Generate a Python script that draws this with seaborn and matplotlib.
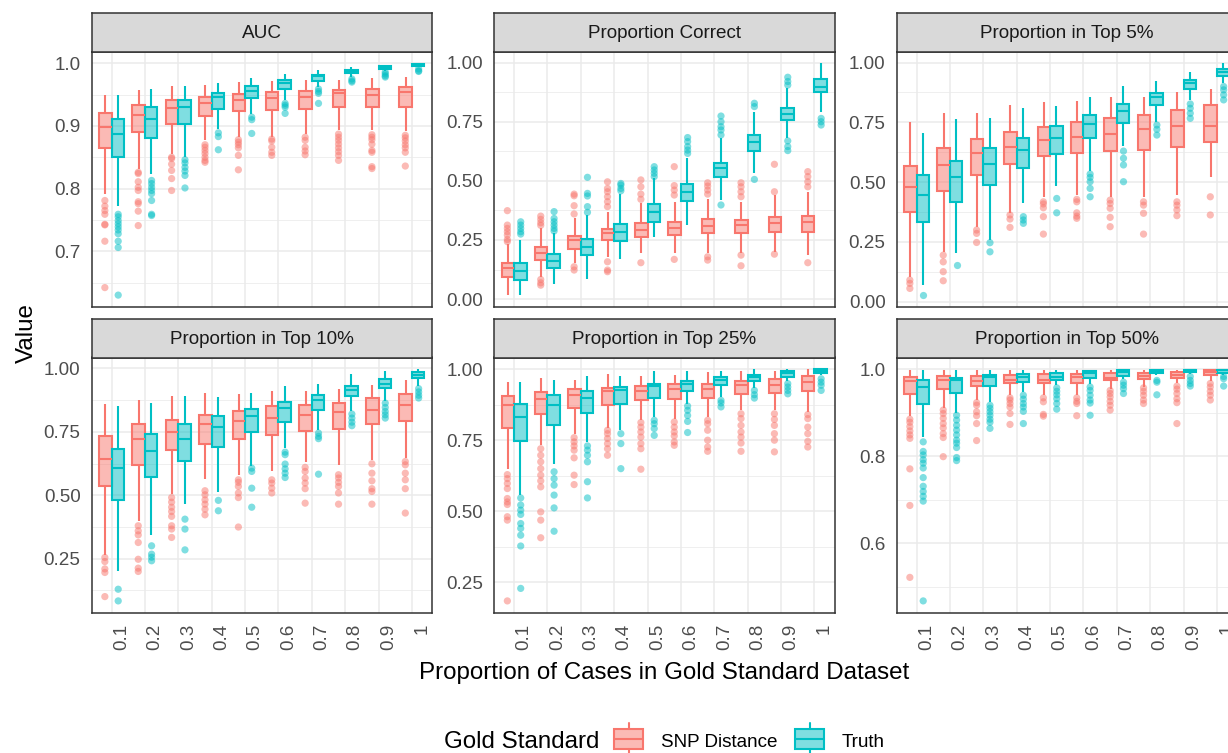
import pandas as pd
import matplotlib
matplotlib.use("Agg")
import matplotlib.pyplot as plt
from matplotlib import ticker
from matplotlib.colors import to_rgba
from matplotlib.patches import Rectangle
from matplotlib.lines import Line2D
from matplotlib.transforms import ScaledTranslation
import seaborn as sns

sns.set_theme(style="white")
plt.rcParams['font.family'] = ['Liberation Sans', 'DejaVu Sans']

# ---------------- DATA ----------------
props = ["0.1", "0.2", "0.3", "0.4", "0.5", "0.6", "0.7", "0.8", "0.9", "1"]
standards = ["SNP Distance", "Truth"]
metrics = ["AUC", "Proportion Correct", "Proportion in Top 5%",
           "Proportion in Top 10%", "Proportion in Top 25%", "Proportion in Top 50%"]

# box stats per proportion: (whisker low, Q1, median, Q3, whisker high)
auc_snp = [(0.791, 0.865, 0.899, 0.921, 0.949), (0.832, 0.890, 0.918, 0.934, 0.958),
           (0.856, 0.903, 0.928, 0.941, 0.963), (0.877, 0.916, 0.936, 0.946, 0.966),
           (0.883, 0.924, 0.942, 0.951, 0.970), (0.883, 0.925, 0.945, 0.954, 0.971),
           (0.887, 0.927, 0.946, 0.955, 0.973), (0.893, 0.930, 0.952, 0.958, 0.974),
           (0.893, 0.930, 0.950, 0.959, 0.977), (0.892, 0.931, 0.954, 0.962, 0.978)]
auc_snp_out = [[0.781, 0.772, 0.765, 0.759, 0.743, 0.742, 0.716, 0.642],
               [0.826, 0.824, 0.811, 0.802, 0.797, 0.779, 0.776, 0.764, 0.741],
               [0.850, 0.848, 0.839, 0.829, 0.816, 0.797],
               [0.870, 0.866, 0.861, 0.856, 0.850, 0.845, 0.842],
               [0.878, 0.874, 0.870, 0.865, 0.853, 0.830],
               [0.879, 0.876, 0.866, 0.858, 0.853],
               [0.882, 0.877, 0.866, 0.860, 0.854],
               [0.887, 0.882, 0.877, 0.871, 0.865, 0.859, 0.853, 0.845],
               [0.886, 0.882, 0.878, 0.871, 0.861, 0.858, 0.835, 0.832],
               [0.885, 0.881, 0.876, 0.870, 0.865, 0.858, 0.836]]
auc_truth = [(0.773, 0.851, 0.887, 0.911, 0.949), (0.824, 0.881, 0.911, 0.930, 0.959),
             (0.850, 0.903, 0.930, 0.942, 0.964), (0.895, 0.927, 0.946, 0.953, 0.968),
             (0.919, 0.944, 0.955, 0.963, 0.976), (0.941, 0.959, 0.969, 0.974, 0.983),
             (0.962, 0.972, 0.979, 0.982, 0.989), (0.978, 0.984, 0.987, 0.989, 0.994),
             (0.988, 0.991, 0.994, 0.996, 0.998), (0.994, 0.996, 0.998, 0.999, 1.000)]
auc_truth_out = [[0.759, 0.755, 0.749, 0.744, 0.739, 0.734, 0.728, 0.716, 0.706, 0.630],
                 [0.813, 0.808, 0.802, 0.797, 0.792, 0.781, 0.759, 0.757],
                 [0.846, 0.841, 0.834, 0.828, 0.821, 0.801],
                 [0.889, 0.883, 0.862],
                 [0.914, 0.910, 0.888],
                 [0.936, 0.933, 0.930, 0.920],
                 [0.959, 0.955, 0.952, 0.936],
                 [0.975, 0.972, 0.970],
                 [0.986, 0.983, 0.980, 0.978],
                 [0.991, 0.988, 0.987]]

correct_snp = [(0.017, 0.092, 0.130, 0.151, 0.235), (0.094, 0.165, 0.193, 0.219, 0.300),
               (0.151, 0.214, 0.250, 0.267, 0.345), (0.179, 0.250, 0.278, 0.298, 0.370),
               (0.193, 0.264, 0.292, 0.320, 0.405), (0.193, 0.271, 0.302, 0.327, 0.410),
               (0.193, 0.278, 0.309, 0.337, 0.425), (0.193, 0.281, 0.313, 0.334, 0.410),
               (0.200, 0.285, 0.323, 0.346, 0.440), (0.186, 0.285, 0.327, 0.353, 0.454)]
correct_snp_out = [[0.374, 0.313, 0.299, 0.285, 0.271, 0.252, 0.243],
                   [0.351, 0.337, 0.323, 0.312, 0.083, 0.069, 0.059],
                   [0.444, 0.437, 0.395, 0.360, 0.137, 0.123],
                   [0.496, 0.468, 0.454, 0.433, 0.412, 0.391, 0.158, 0.123, 0.116],
                   [0.504, 0.475, 0.444, 0.422, 0.154],
                   [0.560, 0.480, 0.461, 0.440, 0.168],
                   [0.492, 0.478, 0.461, 0.444, 0.179, 0.165],
                   [0.492, 0.475, 0.454, 0.433, 0.186, 0.141],
                   [0.570, 0.454, 0.190],
                   [0.539, 0.518, 0.496, 0.475, 0.154]]
correct_truth = [(0.017, 0.080, 0.120, 0.151, 0.250), (0.063, 0.131, 0.162, 0.190, 0.278),
                 (0.083, 0.186, 0.219, 0.255, 0.355), (0.168, 0.245, 0.285, 0.317, 0.445),
                 (0.264, 0.326, 0.370, 0.402, 0.510), (0.313, 0.413, 0.451, 0.487, 0.595),
                 (0.420, 0.515, 0.553, 0.577, 0.680), (0.532, 0.626, 0.663, 0.694, 0.793),
                 (0.680, 0.757, 0.783, 0.807, 0.891), (0.793, 0.877, 0.898, 0.929, 0.997)]
correct_truth_out = [[0.327, 0.313, 0.299, 0.285, 0.275],
                     [0.370, 0.341, 0.327, 0.313, 0.299, 0.288],
                     [0.515, 0.447, 0.436, 0.391, 0.367],
                     [0.489, 0.482, 0.468, 0.458],
                     [0.560, 0.546, 0.532, 0.518],
                     [0.683, 0.666, 0.645, 0.630, 0.616],
                     [0.774, 0.750, 0.729, 0.715, 0.694, 0.398],
                     [0.828, 0.814, 0.506],
                     [0.938, 0.920, 0.905, 0.669, 0.645, 0.628],
                     [0.764, 0.750, 0.736]]

top5_snp = [(0.102, 0.377, 0.481, 0.568, 0.753), (0.209, 0.463, 0.572, 0.642, 0.788),
            (0.311, 0.530, 0.621, 0.679, 0.788), (0.370, 0.575, 0.646, 0.708, 0.823),
            (0.439, 0.609, 0.676, 0.729, 0.834), (0.446, 0.623, 0.688, 0.753, 0.841),
            (0.439, 0.632, 0.702, 0.767, 0.855), (0.437, 0.635, 0.721, 0.781, 0.855),
            (0.446, 0.649, 0.735, 0.802, 0.876), (0.523, 0.669, 0.735, 0.823, 0.888)]
top5_snp_out = [[0.091, 0.077, 0.056],
                [0.195, 0.167, 0.126, 0.088],
                [0.300, 0.286, 0.248],
                [0.363, 0.346, 0.311],
                [0.418, 0.409, 0.393, 0.356, 0.283],
                [0.428, 0.418, 0.372, 0.358, 0.349],
                [0.425, 0.411, 0.391, 0.353, 0.314],
                [0.418, 0.404, 0.370, 0.283],
                [0.418, 0.404, 0.384, 0.360],
                [0.439, 0.363]]
top5_truth = [(0.070, 0.335, 0.446, 0.530, 0.704), (0.202, 0.418, 0.520, 0.590, 0.764),
              (0.258, 0.488, 0.576, 0.642, 0.770), (0.411, 0.558, 0.635, 0.686, 0.812),
              (0.485, 0.616, 0.683, 0.735, 0.820), (0.547, 0.683, 0.743, 0.781, 0.855),
              (0.651, 0.749, 0.799, 0.827, 0.900), (0.753, 0.823, 0.855, 0.874, 0.923),
              (0.844, 0.888, 0.914, 0.927, 0.962), (0.914, 0.944, 0.962, 0.972, 0.997)]
top5_truth_out = [[0.028],
                  [0.153],
                  [0.247, 0.209],
                  [0.356, 0.342, 0.328],
                  [0.432, 0.372],
                  [0.534, 0.520, 0.502, 0.474, 0.439],
                  [0.630, 0.600, 0.572, 0.502],
                  [0.739, 0.721, 0.697],
                  [0.827, 0.809, 0.788, 0.767],
                  [0.900, 0.886, 0.865, 0.844]]

top10_snp = [(0.265, 0.537, 0.643, 0.732, 0.859), (0.397, 0.620, 0.721, 0.782, 0.876),
             (0.505, 0.677, 0.749, 0.798, 0.892), (0.564, 0.703, 0.781, 0.817, 0.903),
             (0.581, 0.723, 0.794, 0.833, 0.900), (0.594, 0.736, 0.804, 0.850, 0.909),
             (0.633, 0.754, 0.817, 0.857, 0.912), (0.620, 0.762, 0.827, 0.865, 0.919),
             (0.640, 0.781, 0.837, 0.883, 0.936), (0.647, 0.794, 0.857, 0.899, 0.955)]
top10_snp_out = [[0.255, 0.239, 0.210, 0.196, 0.101],
                 [0.380, 0.360, 0.344, 0.314, 0.248, 0.213, 0.200],
                 [0.491, 0.473, 0.453, 0.436, 0.417, 0.380, 0.367, 0.334],
                 [0.518, 0.502, 0.482, 0.465, 0.445, 0.423],
                 [0.561, 0.551, 0.535, 0.509, 0.491, 0.375],
                 [0.561, 0.548, 0.528, 0.509],
                 [0.610, 0.594, 0.568, 0.548, 0.526, 0.469],
                 [0.581, 0.568, 0.551, 0.535, 0.509, 0.465],
                 [0.624, 0.587, 0.557, 0.526, 0.515, 0.465],
                 [0.633, 0.620, 0.587, 0.561, 0.526, 0.430]]
top10_truth = [(0.200, 0.482, 0.607, 0.682, 0.850), (0.342, 0.572, 0.675, 0.742, 0.863),
               (0.466, 0.636, 0.723, 0.782, 0.892), (0.511, 0.690, 0.769, 0.811, 0.886),
               (0.614, 0.748, 0.813, 0.840, 0.903), (0.686, 0.788, 0.843, 0.867, 0.932),
               (0.758, 0.837, 0.876, 0.896, 0.940), (0.830, 0.890, 0.913, 0.929, 0.978),
               (0.873, 0.922, 0.940, 0.958, 0.988), (0.929, 0.962, 0.975, 0.987, 0.997)]
top10_truth_out = [[0.130, 0.084],
                   [0.301, 0.268, 0.256, 0.242],
                   [0.406, 0.367, 0.285],
                   [0.480, 0.439],
                   [0.607, 0.594, 0.528, 0.453],
                   [0.670, 0.660, 0.623, 0.604, 0.587, 0.570],
                   [0.745, 0.732, 0.723, 0.583],
                   [0.820, 0.804, 0.788, 0.774],
                   [0.863, 0.846, 0.830, 0.817, 0.804],
                   [0.920, 0.907, 0.894, 0.883]]

top25_snp = [(0.650, 0.793, 0.875, 0.905, 0.954), (0.732, 0.841, 0.896, 0.919, 0.970),
             (0.771, 0.863, 0.910, 0.929, 0.963), (0.794, 0.875, 0.922, 0.935, 0.984),
             (0.820, 0.890, 0.922, 0.940, 0.975), (0.826, 0.896, 0.929, 0.946, 0.980),
             (0.832, 0.898, 0.931, 0.949, 0.989), (0.855, 0.911, 0.943, 0.957, 0.992),
             (0.855, 0.916, 0.945, 0.964, 0.995), (0.849, 0.922, 0.954, 0.974, 0.999)]
top25_snp_out = [[0.629, 0.615, 0.598, 0.580, 0.545, 0.533, 0.524, 0.481, 0.469, 0.185],
                 [0.720, 0.697, 0.674, 0.650, 0.627, 0.607, 0.586, 0.498, 0.469, 0.407],
                 [0.759, 0.744, 0.730, 0.715, 0.688, 0.627, 0.594],
                 [0.785, 0.773, 0.756, 0.738, 0.720, 0.697],
                 [0.812, 0.796, 0.779, 0.761, 0.738, 0.720, 0.648],
                 [0.814, 0.796, 0.779, 0.765, 0.744, 0.732],
                 [0.820, 0.808, 0.785, 0.750, 0.726, 0.711],
                 [0.843, 0.826, 0.802, 0.779, 0.761, 0.740, 0.711],
                 [0.843, 0.823, 0.802, 0.773, 0.750, 0.709],
                 [0.840, 0.826, 0.796, 0.773, 0.746, 0.726]]
top25_truth = [(0.559, 0.747, 0.832, 0.878, 0.954), (0.668, 0.802, 0.875, 0.908, 0.960),
               (0.744, 0.846, 0.898, 0.922, 0.975), (0.785, 0.876, 0.925, 0.937, 0.975),
               (0.832, 0.898, 0.939, 0.949, 0.993), (0.878, 0.922, 0.946, 0.958, 0.995),
               (0.902, 0.943, 0.960, 0.972, 0.992), (0.933, 0.957, 0.972, 0.980, 0.999),
               (0.957, 0.972, 0.987, 0.992, 0.999), (0.978, 0.987, 0.995, 0.999, 1.000)]
top25_truth_out = [[0.547, 0.522, 0.504, 0.489, 0.457, 0.440, 0.416, 0.378, 0.229],
                   [0.639, 0.615, 0.592, 0.557, 0.512, 0.430],
                   [0.730, 0.715, 0.697, 0.674, 0.604, 0.547],
                   [0.773, 0.738, 0.650],
                   [0.820, 0.808, 0.791, 0.767],
                   [0.870, 0.855, 0.837, 0.816, 0.777],
                   [0.890, 0.881, 0.867],
                   [0.925, 0.910, 0.898],
                   [0.949, 0.937, 0.925, 0.913],
                   [0.966, 0.954, 0.943, 0.925]]

top50_snp = [(0.893, 0.942, 0.973, 0.982, 0.998), (0.911, 0.955, 0.976, 0.983, 0.998),
             (0.929, 0.961, 0.973, 0.984, 0.998), (0.940, 0.967, 0.976, 0.987, 0.998),
             (0.940, 0.968, 0.976, 0.989, 0.998), (0.940, 0.969, 0.982, 0.989, 0.998),
             (0.955, 0.974, 0.980, 0.992, 0.998), (0.960, 0.978, 0.983, 0.992, 0.998),
             (0.967, 0.979, 0.986, 0.993, 0.998), (0.973, 0.986, 0.993, 0.997, 0.998)]
top50_snp_out = [[0.885, 0.878, 0.868, 0.858, 0.849, 0.841, 0.771, 0.687, 0.522],
                 [0.906, 0.898, 0.887, 0.875, 0.865, 0.852, 0.843, 0.799],
                 [0.923, 0.917, 0.902, 0.893, 0.875, 0.836],
                 [0.934, 0.929, 0.921, 0.913, 0.898, 0.873],
                 [0.934, 0.925, 0.896, 0.892],
                 [0.934, 0.926, 0.921, 0.893],
                 [0.951, 0.944, 0.936, 0.926, 0.917, 0.906],
                 [0.957, 0.949, 0.940, 0.929, 0.921],
                 [0.961, 0.954, 0.944, 0.932, 0.923, 0.875],
                 [0.967, 0.959, 0.949, 0.940, 0.929]]
top50_truth = [(0.845, 0.919, 0.959, 0.974, 0.997), (0.900, 0.946, 0.976, 0.980, 0.997),
               (0.925, 0.961, 0.982, 0.986, 0.999), (0.948, 0.970, 0.982, 0.988, 0.999),
               (0.963, 0.976, 0.982, 0.992, 0.998), (0.965, 0.980, 0.992, 0.995, 0.997),
               (0.978, 0.983, 0.993, 0.997, 0.999), (0.986, 0.992, 0.996, 0.998, 0.999),
               (0.989, 0.993, 0.998, 0.998, 0.999), (0.987, 0.992, 0.997, 0.999, 1.000)]
top50_truth_out = [[0.833, 0.811, 0.803, 0.792, 0.784, 0.773, 0.751, 0.731, 0.719, 0.708, 0.697, 0.468],
                   [0.894, 0.883, 0.871, 0.860, 0.849, 0.837, 0.830, 0.820, 0.797, 0.790],
                   [0.917, 0.910, 0.902, 0.894, 0.885, 0.878, 0.864],
                   [0.940, 0.931, 0.921, 0.913, 0.903, 0.875],
                   [0.957, 0.949, 0.941, 0.932, 0.921, 0.908],
                   [0.959, 0.951, 0.940, 0.929, 0.922, 0.894],
                   [0.970, 0.963, 0.955, 0.944],
                   [0.974, 0.970, 0.941],
                   [0.983, 0.974, 0.967, 0.961],
                   [0.983, 0.978, 0.961]]

# ---------------- LONG-FORM TABLES ----------------
panel_data = {
    "AUC": (auc_snp, auc_snp_out, auc_truth, auc_truth_out),
    "Proportion Correct": (correct_snp, correct_snp_out, correct_truth, correct_truth_out),
    "Proportion in Top 5%": (top5_snp, top5_snp_out, top5_truth, top5_truth_out),
    "Proportion in Top 10%": (top10_snp, top10_snp_out, top10_truth, top10_truth_out),
    "Proportion in Top 25%": (top25_snp, top25_snp_out, top25_truth, top25_truth_out),
    "Proportion in Top 50%": (top50_snp, top50_snp_out, top50_truth, top50_truth_out),
}

box_rows, out_rows = [], []
for m, (s_box, s_out, t_box, t_out) in panel_data.items():
    for std, boxes, outs in [(standards[0], s_box, s_out), (standards[1], t_box, t_out)]:
        for p, stats, pts in zip(props, boxes, outs):
            box_rows += [(m, p, std, v) for v in stats]
            out_rows += [(m, p, std, v) for v in pts]
box_df = pd.DataFrame(box_rows, columns=["metric", "prop", "standard", "value"])
out_df = pd.DataFrame(out_rows, columns=["metric", "prop", "standard", "value"])

# ---------------- STYLE / LAYOUT ----------------
colors = ["#F8766D", "#00BFC4"]
pal = dict(zip(standards, colors))
dark = "#333333"
grid_col = "#EBEBEB"
small = 13.6
big = 17.4

W, H = 1228, 753
fig = plt.figure(figsize=(W / 100, H / 100), dpi=100)


def px_rect(left, top, right, bottom):
    return [left / W, 1 - bottom / H, (right - left) / W, (bottom - top) / H]


col_left = [91.5, 494.0, 896.5]
row_top = [51.7, 357.5]
panel_w, panel_h, strip_h = 340.5, 255.0, 38.5

# (major tick step, decimals) per facet
y_fmt = {"AUC": (0.1, 1), "Proportion in Top 50%": (0.2, 1)}

for k, m in enumerate(metrics):
    r, c = divmod(k, 3)
    l, t = col_left[c], row_top[r]
    ax = fig.add_axes(px_rect(l, t, l + panel_w, t + panel_h))
    sax = fig.add_axes(px_rect(l, t - strip_h, l + panel_w, t))

    for std, col in zip(standards, colors):
        n0 = len(ax.patches)
        sub = box_df[(box_df.metric == m) & (box_df.standard == std)]
        sns.boxplot(data=sub, x="prop", y="value", hue="standard", order=props,
                    hue_order=standards, palette=pal, saturation=1, dodge=True,
                    whis=(0, 100), showfliers=False, width=0.75, gap=0,
                    linewidth=1.5, linecolor=col, legend=False, ax=ax,
                    capprops=dict(visible=False))
        for patch in ax.patches[n0:]:
            patch.set_facecolor(to_rgba(col, 0.5))
            patch.set_edgecolor(col)

    sns.stripplot(data=out_df[out_df.metric == m], x="prop", y="value", hue="standard",
                  order=props, hue_order=standards, palette=pal, dodge=True,
                  jitter=False, size=5.2, alpha=0.5, linewidth=0, legend=False, ax=ax)

    vals = pd.concat([box_df[box_df.metric == m].value, out_df[out_df.metric == m].value])
    lo, hi = vals.min(), vals.max()
    pad = 0.05 * (hi - lo)
    ax.set_ylim(lo - pad, hi + pad)
    ax.set_xlim(-0.6, len(props) - 0.4)

    step, dec = y_fmt.get(m, (0.25, 2))
    ax.yaxis.set_major_locator(ticker.MultipleLocator(step))
    ax.yaxis.set_minor_locator(ticker.MultipleLocator(step / 2))
    ax.yaxis.set_major_formatter(ticker.FormatStrFormatter(f"%.{dec}f"))
    ax.set_axisbelow(True)
    ax.grid(True, which="major", color=grid_col, linewidth=1.1)
    ax.grid(True, which="minor", axis="y", color=grid_col, linewidth=0.55)
    ax.set_xlabel("")
    ax.set_ylabel("")
    for sp in ax.spines.values():
        sp.set_visible(True)
        sp.set_color(dark)
        sp.set_linewidth(1.1)
    ax.tick_params(which="major", length=4.3, width=1.1, color=dark,
                   labelcolor="#4D4D4D", labelsize=small, pad=3.6)
    ax.tick_params(which="minor", length=0)
    ax.set_xticks(range(len(props)))
    if r == 0:
        ax.tick_params(axis="x", length=0, labelbottom=False)
    else:
        ax.set_xticklabels(props, rotation=90, ha="left", va="top")
        for lab in ax.get_xticklabels():
            lab.set_transform(lab.get_transform() + ScaledTranslation(1.5 / 100, 0, fig.dpi_scale_trans))

    # facet strip
    sax.set_facecolor("#D9D9D9")
    sax.set_xticks([])
    sax.set_yticks([])
    for sp in sax.spines.values():
        sp.set_visible(True)
        sp.set_color(dark)
        sp.set_linewidth(1.1)
    sax.text(0.5, 0.47, m, ha="center", va="center", fontsize=small,
             color="#1A1A1A", transform=sax.transAxes)

# ---------------- AXIS TITLES ----------------
fig.text(664 / W, 1 - 679 / H, "Proportion of Cases in Gold Standard Dataset",
         ha="center", va="baseline", fontsize=big, color="black")
fig.text(33 / W, 1 - 333 / H, "Value", rotation=90, rotation_mode="anchor",
         ha="center", va="baseline", fontsize=big, color="black")

# ---------------- LEGEND ----------------
fig.text(444 / W, 1 - 748.3 / H, "Gold Standard", ha="left", va="baseline",
         fontsize=big, color="black")
key = 38.8
key_cy = 739.0
for std, col, kx, lx in zip(standards, colors, [609.5, 790.5], [661, 842]):
    bx0, bx1 = kx + 0.125 * key, kx + 0.875 * key
    by0, by1 = key_cy - 0.25 * key, key_cy + 0.25 * key
    fig.add_artist(Rectangle((bx0 / W, 1 - by1 / H), (bx1 - bx0) / W, (by1 - by0) / H,
                             transform=fig.transFigure, facecolor=to_rgba(col, 0.5),
                             edgecolor=col, linewidth=1.5))
    fig.add_artist(Line2D([bx0 / W, bx1 / W], [1 - key_cy / H] * 2,
                          transform=fig.transFigure, color=col, linewidth=1.5))
    cx = (kx + key / 2) / W
    fig.add_artist(Line2D([cx, cx], [1 - (key_cy - 0.4 * key) / H, 1 - by0 / H],
                          transform=fig.transFigure, color=col, linewidth=1.5))
    fig.add_artist(Line2D([cx, cx], [1 - by1 / H, 1 - (key_cy + 0.4 * key) / H],
                          transform=fig.transFigure, color=col, linewidth=1.5))
    fig.text(lx / W, 1 - 746.7 / H, std, ha="left", va="baseline",
             fontsize=small, color="black")

fig.savefig("out.png", dpi=100)
